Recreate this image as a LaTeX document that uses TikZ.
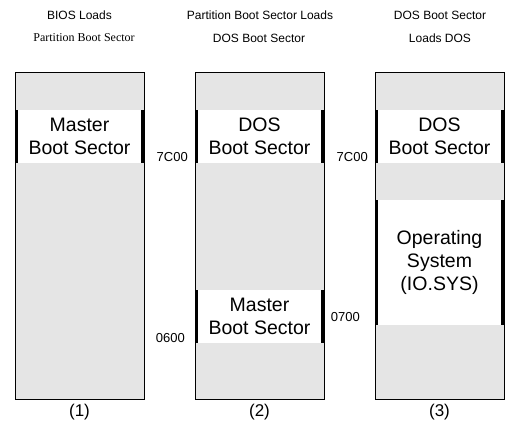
\documentclass[tikz,border=0pt]{standalone}
\usepackage{fontspec}
\setmainfont{Liberation Serif}
\setsansfont{Liberation Sans}
\usetikzlibrary{positioning}
\definecolor{memgray}{RGB}{229,229,229}

\begin{document}
\begin{tikzpicture}[x=1pt, y=-1pt,
		column/.style={draw, fill=memgray, line width=0.9pt, minimum width=129pt,
			minimum height=327pt, inner sep=0pt, outer sep=0pt},
		band/.style={fill=white, minimum width=129pt, inner sep=0pt, outer sep=0pt,
			align=center, font=\sffamily\fontsize{19.5}{23}\selectfont},
		sideline/.style={line width=3pt},
		addr/.style={inner sep=0pt, font=\sffamily\fontsize{13}{15}\selectfont},
		head/.style={inner sep=0pt, font=\sffamily\fontsize{12}{14}\selectfont},
		stage/.style={inner sep=0pt, font=\sffamily\fontsize{17}{19}\selectfont}]
	\useasboundingbox (0,0) rectangle (512,426);
	% memory columns
	\foreach \n/\x in {1/79.5, 2/259.5, 3/439.5} {
		\node[column] (col\n) at (\x,235.5) {};
		\node[stage, below=5pt of col\n] (num\n) {(\n)};
	}
	% loaded sectors
	\node[band, minimum height=53pt] (mbr1) at (79.5,136.5) {Master\\Boot Sector};
	\node[band, minimum height=53pt] (dos2) at (259.5,136.5) {DOS\\Boot Sector};
	\node[band, minimum height=53pt] (mbr2) at (259.5,316.5) {Master\\Boot Sector};
	\node[band, minimum height=53pt] (dos3) at (439.5,136.5) {DOS\\Boot Sector};
	\node[band, minimum height=125pt] (os3) at (439.5,262.5) {Operating\\System\\(IO.SYS)};
	\foreach \b in {mbr1, dos2, mbr2, dos3, os3} {
		\draw[sideline] ([xshift=1.5pt]\b.north west) -- ([xshift=1.5pt]\b.south west);
		\draw[sideline] ([xshift=-1.5pt]\b.north east) -- ([xshift=-1.5pt]\b.south east);
	}
	% addresses
	\node[addr, anchor=south east] (a7c00a) at ([xshift=-7pt, yshift=1pt]dos2.south west) {7C00};
	\node[addr, anchor=south east] (a7c00b) at ([xshift=-7pt, yshift=1pt]dos3.south west) {7C00};
	\node[addr, anchor=south east] (a0600) at ([xshift=-10pt]mbr2.south west) {0600};
	\node[addr, anchor=south east] (a0700) at ([xshift=-15pt, yshift=3pt]os3.south west) {0700};
	% headings
	\node[head] (h1a) at (79.5,15) {BIOS Loads};
	\node[inner sep=0pt, font=\rmfamily\fontsize{12}{14}\selectfont] (h1b) at (84,38) {Partition Boot Sector};
	\node[head] (h2a) at (260,15) {Partition Boot Sector Loads};
	\node[head] (h2b) at (259,38) {DOS Boot Sector};
	\node[head] (h3a) at (440,15) {DOS Boot Sector};
	\node[head] (h3b) at (440,38) {Loads DOS};
\end{tikzpicture}
\end{document}
